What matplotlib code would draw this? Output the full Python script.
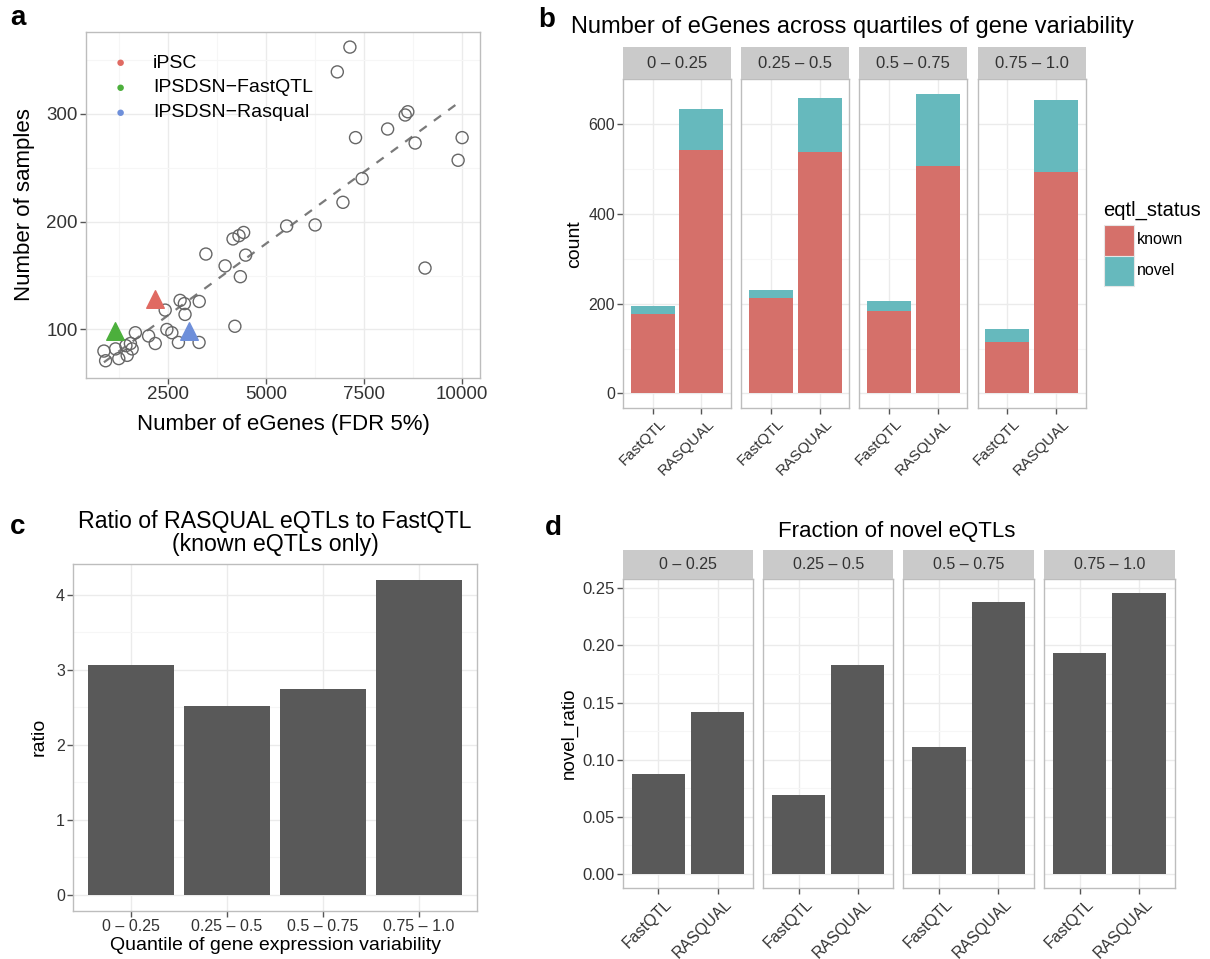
import numpy as np
import matplotlib
matplotlib.use("Agg")
import matplotlib.pyplot as plt
from matplotlib.patches import Rectangle
from matplotlib.transforms import ScaledTranslation

plt.rcParams['font.family'] = ['Liberation Sans', 'DejaVu Sans']

# ---------------- data ----------------
# panel a: eGenes vs sample size for published studies
study_egenes = [7145, 6823, 8625, 8558, 8109, 7289, 10013, 8812, 9911, 7457,
                6967, 6256, 5528, 4429, 4310, 4158, 3464, 4480, 3955, 4345,
                9065, 2805, 2914, 3294, 2424, 2931, 4205, 1662, 2000, 2170,
                2467, 2594, 2762, 3290, 858, 1155, 901, 1238, 1452, 1579,
                1535, 1420]
study_samples = [362, 339, 302, 299, 286, 278, 278, 273, 257, 240,
                 218, 197, 196, 190, 187, 184, 170, 169, 159, 149,
                 157, 127, 124, 126, 118, 114, 103, 97, 94, 87,
                 100, 97, 88, 88, 80, 82, 71, 73, 76, 82,
                 87, 85]
highlight_names = ["iPSC", "IPSDSN\u2212FastQTL", "IPSDSN\u2212Rasqual"]
highlight_egenes = [2170, 1140, 3040]
highlight_samples = [128, 99, 99]
highlight_colors = ["#E06A62", "#4CAF3C", "#6E8FDA"]

# panels b-d: quartiles of gene variability
quartiles = ["0 \u2013 0.25", "0.25 \u2013 0.5", "0.5 \u2013 0.75", "0.75 \u2013 1.0"]
methods = ["FastQTL", "RASQUAL"]
known_fastqtl = [176, 213, 183, 115]
novel_fastqtl = [18, 17, 24, 29]
known_rasqual = [543, 537, 506, 493]
novel_rasqual = [90, 121, 161, 160]
ratio_known = [3.06, 2.52, 2.74, 4.20]
novel_ratio_fastqtl = [0.087, 0.069, 0.111, 0.193]
novel_ratio_rasqual = [0.142, 0.183, 0.238, 0.246]

# ---------------- styling ----------------
W, H = 1210, 959
KNOWN_COL = "#D5706A"
NOVEL_COL = "#66B9BD"
BAR_GREY = "#595959"
BORDER = "#BDBDBD"
GRID_MAJ = "#EBEBEB"
GRID_MIN = "#F6F6F6"
STRIP = "#CACACA"
TICK_TXT = "#333333"

fig = plt.figure(figsize=(W / 100, H / 100), dpi=100)


def box(l, t, r, b):
    return [l / W, 1 - b / H, (r - l) / W, (b - t) / H]


def style(ax, tick_size):
    ax.set_facecolor("white")
    for s in ax.spines.values():
        s.set_color(BORDER)
        s.set_linewidth(1.0)
    ax.tick_params(axis="both", which="major", length=4, width=1,
                   color="#555555", labelcolor=TICK_TXT, labelsize=tick_size, pad=2)
    ax.tick_params(axis="both", which="minor", length=0)
    ax.grid(True, which="major", color=GRID_MAJ, lw=1.0, zorder=0)
    ax.grid(True, which="minor", color=GRID_MIN, lw=0.8, zorder=0)
    ax.set_axisbelow(True)


def strip(l, t, r, b, label, size):
    sa = fig.add_axes(box(l, t, r, b))
    sa.set_facecolor(STRIP)
    for s in sa.spines.values():
        s.set_visible(False)
    sa.set_xticks([])
    sa.set_yticks([])
    sa.text(0.5, 0.5, label, ha="center", va="center", fontsize=size,
            color=TICK_TXT, transform=sa.transAxes)


def slanted_labels(ax, labels, size):
    ax.set_xticklabels(labels, rotation=45, ha="right", va="top",
                       rotation_mode="anchor", fontsize=size)
    shift = ScaledTranslation(6 / 100, 0, fig.dpi_scale_trans)
    for lab in ax.get_xticklabels():
        lab.set_transform(lab.get_transform() + shift)


# ---------------- panel a ----------------
axa = fig.add_axes(box(86, 32, 480, 378))
style(axa, 13.5)
axa.set_xlim(400, 10470)
axa.set_ylim(55, 376)
axa.set_xticks([2500, 5000, 7500, 10000])
axa.set_xticks([1250, 3750, 6250, 8750], minor=True)
axa.set_yticks([100, 200, 300])
axa.set_yticks([150, 250, 350], minor=True)

sx = np.array(study_egenes, float)
sy = np.array(study_samples, float)
coef = np.polyfit(sx, sy, 1)
xl = np.array([sx.min(), sx.max()])
axa.plot(xl, np.polyval(coef, xl), ls=(0, (4, 4)), color="#7A7A7A", lw=1.6, zorder=2)
axa.scatter(sx, sy, s=75, facecolors="none", edgecolors="#666666", linewidths=1.0, zorder=3)
for name, ex, ey, c in zip(highlight_names, highlight_egenes, highlight_samples, highlight_colors):
    axa.scatter([ex], [ey], marker="^", s=160, color=c, zorder=4, label=name)
axa.set_xlabel("Number of eGenes (FDR 5%)", fontsize=16, labelpad=8)
axa.set_ylabel("Number of samples", fontsize=16, labelpad=8)

# legend drawn as dot + label inside the panel
for i, (name, c) in enumerate(zip(highlight_names, highlight_colors)):
    ypx = 63.3 + i * 24.7
    fig.text(120.7 / W, 1 - ypx / H, "\u25CF", color=c, fontsize=11, ha="center", va="center")
    fig.text(153 / W, 1 - ypx / H, name, color="black", fontsize=14, ha="left", va="center")

# ---------------- panel b ----------------
b_cols = [(623.3, 730.7), (741.3, 849), (859.3, 967.3), (977.7, 1085.7)]
x = np.array([1, 2])
for i, (l, r) in enumerate(b_cols):
    ax = fig.add_axes(box(l, 79.3, r, 408.3))
    style(ax, 11.5)
    kn = [known_fastqtl[i], known_rasqual[i]]
    nv = [novel_fastqtl[i], novel_rasqual[i]]
    ax.bar(x, kn, width=0.9, color=KNOWN_COL, zorder=2)
    ax.bar(x, nv, width=0.9, bottom=kn, color=NOVEL_COL, zorder=2)
    ax.set_xlim(0.4, 2.6)
    ax.set_ylim(-33, 700)
    ax.set_yticks([0, 200, 400, 600])
    ax.set_yticks([100, 300, 500], minor=True)
    ax.set_xticks(x)
    slanted_labels(ax, methods, 11)
    if i == 0:
        ax.set_ylabel("count", fontsize=14, labelpad=4)
    else:
        ax.tick_params(axis="y", which="both", left=False, labelleft=False)
    strip(l, 47.3, r, 79.3, quartiles[i], 12)

fig.text(852 / W, 1 - 27 / H, "Number of eGenes across quartiles of gene variability",
         ha="center", va="center", fontsize=17)
# legend for eqtl_status
fig.text(1103 / W, 1 - 210 / H, "eqtl_status", ha="left", va="center", fontsize=14.5)
for j, (lab, c) in enumerate([("known", KNOWN_COL), ("novel", NOVEL_COL)]):
    t = 225 + j * 30.5
    fig.patches.append(Rectangle((1103.5 / W, 1 - (t + 30.5) / H), 30 / W, 30.5 / H,
                                 transform=fig.transFigure, facecolor=c,
                                 edgecolor="#E6E6E6", lw=0.8))
    fig.text(1137 / W, 1 - (t + 15) / H, lab, ha="left", va="center", fontsize=11.5)

# ---------------- panel c ----------------
axc = fig.add_axes(box(73.3, 564, 476.7, 910.7))
style(axc, 11.5)
xc = np.arange(1, len(quartiles) + 1)
axc.bar(xc, ratio_known, width=0.9, color=BAR_GREY, zorder=2)
axc.set_xlim(0.4, 4.6)
axc.set_ylim(-0.21, 4.41)
axc.set_yticks([0, 1, 2, 3, 4])
axc.set_yticks([0.5, 1.5, 2.5, 3.5], minor=True)
axc.set_xticks(xc)
axc.set_xticklabels(quartiles, fontsize=11.5)
axc.set_xlabel("Quantile of gene expression variability", fontsize=14, labelpad=2)
axc.set_ylabel("ratio", fontsize=14, labelpad=6)
fig.text(275 / W, 1 - 533 / H, "Ratio of RASQUAL eQTLs to FastQTL\n(known eQTLs only)",
         ha="center", va="center", fontsize=16.7, linespacing=1.0)

# ---------------- panel d ----------------
d_cols = [(622.7, 753.3), (763.3, 893.3), (903.3, 1034), (1044, 1174.7)]
for i, (l, r) in enumerate(d_cols):
    ax = fig.add_axes(box(l, 579.3, r, 887.7))
    style(ax, 12)
    vals = [novel_ratio_fastqtl[i], novel_ratio_rasqual[i]]
    ax.bar(x, vals, width=0.9, color=BAR_GREY, zorder=2)
    ax.set_xlim(0.4, 2.6)
    ax.set_ylim(-0.0123, 0.258)
    ax.set_yticks([0, 0.05, 0.10, 0.15, 0.20, 0.25])
    ax.set_yticks([0.025, 0.075, 0.125, 0.175, 0.225], minor=True)
    ax.set_yticklabels(["0.00", "0.05", "0.10", "0.15", "0.20", "0.25"])
    ax.set_xticks(x)
    slanted_labels(ax, methods, 11.5)
    if i == 0:
        ax.set_ylabel("novel_ratio", fontsize=13.5, labelpad=3)
    else:
        ax.tick_params(axis="y", which="both", left=False, labelleft=False)
    strip(l, 550, r, 579.3, quartiles[i], 11.5)

fig.text(897 / W, 1 - 531 / H, "Fraction of novel eQTLs", ha="center", va="center", fontsize=16)

# panel letters
for lab, px, py in [("a", 18, 18), ("b", 547, 20), ("c", 18, 527), ("d", 553, 528)]:
    fig.text(px / W, 1 - py / H, lab, ha="center", va="center", fontsize=20, fontweight="bold")

fig.savefig("out.png", dpi=100, facecolor="white")
